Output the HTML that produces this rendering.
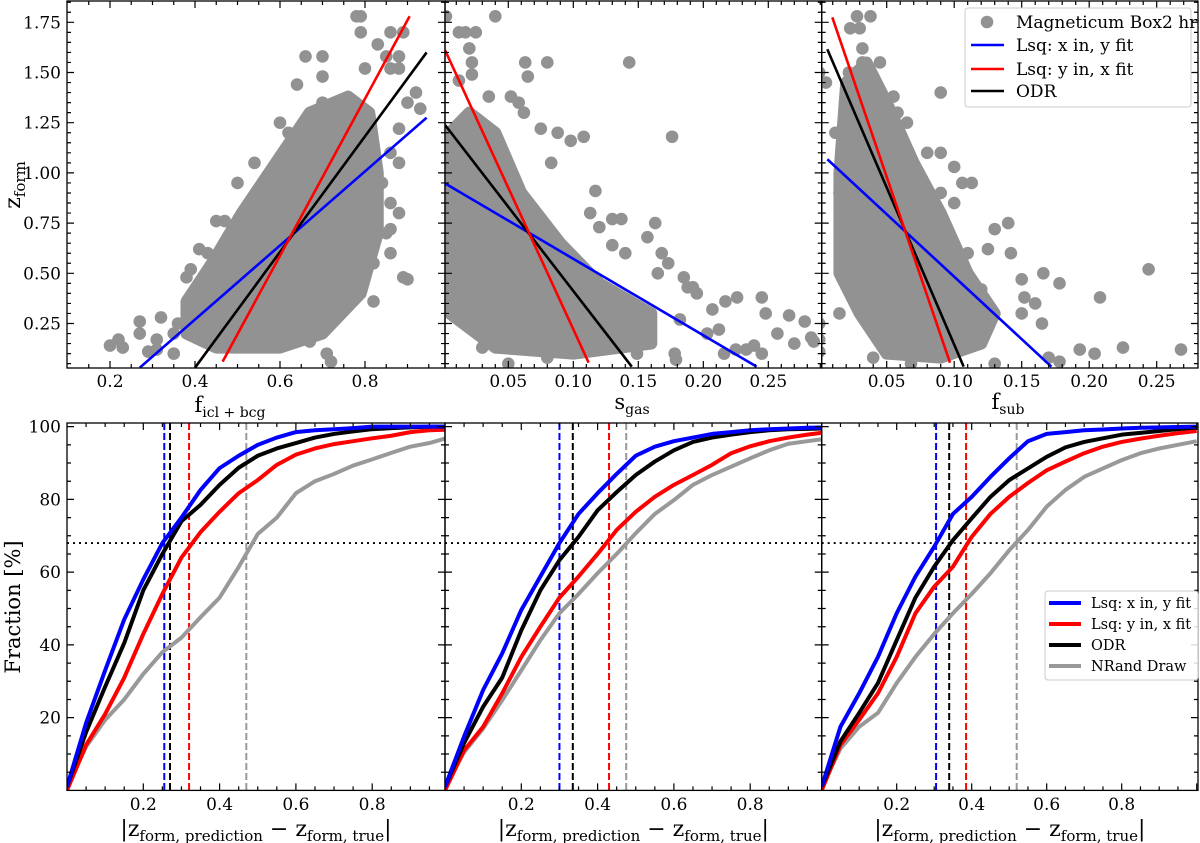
<!DOCTYPE html>
<html><head><meta charset="utf-8">
<style>
html,body{margin:0;padding:0;background:#fff;overflow:hidden;}
svg{display:block;font-family:"DejaVu Serif","Liberation Serif",serif;}
</style></head>
<body>
<svg id="fig" width="1200" height="843" viewBox="0 0 1200 843" xmlns="http://www.w3.org/2000/svg">
<defs>
<clipPath id="c1"><rect x="67" y="1" width="378" height="367"/></clipPath>
<clipPath id="c2"><rect x="445" y="1" width="376.7" height="367"/></clipPath>
<clipPath id="c3"><rect x="821.7" y="1" width="376.3" height="367"/></clipPath>
<clipPath id="d1"><rect x="67" y="423" width="378" height="367.4"/></clipPath>
<clipPath id="d2"><rect x="445" y="423" width="376.7" height="367.4"/></clipPath>
<clipPath id="d3"><rect x="821.7" y="423" width="376.3" height="367.4"/></clipPath>
</defs>
</svg>
<script>
// ---------- DATA ----------
const p1Points=[[0.2,0.14],[0.22,0.17],[0.23,0.13],[0.27,0.26],[0.27,0.2],[0.29,0.11],[0.31,0.12],[0.32,0.28],[0.31,0.17],[0.35,0.1],[0.36,0.25],[0.38,0.48],[0.39,0.52],[0.41,0.62],[0.43,0.6],[0.45,0.76],[0.47,0.76],[0.5,0.95],[0.54,1.05],[0.56,0.95],[0.6,1.25],[0.62,1.2],[0.64,1.44],[0.66,1.58],[0.7,1.58],[0.7,1.48],[0.71,0.1],[0.72,0.06],[0.69,0.25],[0.74,0.3],[0.78,1.78],[0.79,1.78],[0.79,1.7],[0.83,1.64],[0.86,1.7],[0.89,1.7],[0.85,1.58],[0.88,1.58],[0.8,1.52],[0.86,1.52],[0.88,1.52],[0.92,1.4],[0.93,1.32],[0.9,1.35],[0.88,1.22],[0.86,1.1],[0.88,1.05],[0.86,0.85],[0.88,0.8],[0.86,0.72],[0.89,0.48],[0.9,0.47],[0.82,0.36],[0.86,0.6],[0.85,0.7],[0.76,0.45],[0.67,0.16],[0.62,0.16],[0.55,0.15],[0.5,0.22],[0.44,0.3],[0.58,0.35],[0.77,1.2],[0.8,1.0],[0.7,1.35],[0.75,1.3],[0.53,0.62],[0.48,0.5],[0.4,0.34],[0.35,0.2],[0.82,0.55],[0.84,0.95]];
const p1Core=[[0.38,0.2],[0.45,0.13],[0.6,0.13],[0.7,0.2],[0.79,0.4],[0.83,0.7],[0.83,1.0],[0.81,1.3],[0.76,1.38],[0.67,1.3],[0.59,1.05],[0.51,0.8],[0.44,0.55],[0.38,0.36]];
const p2Points=[[0.002,1.78],[0.04,1.78],[0.012,1.7],[0.017,1.7],[0.025,1.7],[0.02,1.62],[0.022,1.55],[0.022,1.49],[0.012,1.46],[0.063,1.55],[0.08,1.55],[0.065,1.48],[0.143,1.55],[0.035,1.38],[0.052,1.38],[0.058,1.35],[0.075,1.22],[0.088,1.2],[0.098,1.16],[0.108,1.18],[0.176,1.18],[0.083,1.05],[0.117,0.91],[0.113,0.8],[0.13,0.77],[0.137,0.77],[0.163,0.75],[0.12,0.73],[0.157,0.68],[0.13,0.64],[0.14,0.6],[0.173,0.55],[0.168,0.6],[0.165,0.5],[0.185,0.48],[0.188,0.43],[0.195,0.4],[0.192,0.43],[0.207,0.32],[0.217,0.36],[0.226,0.38],[0.245,0.38],[0.182,0.27],[0.203,0.2],[0.212,0.22],[0.248,0.3],[0.266,0.29],[0.257,0.2],[0.27,0.15],[0.283,0.18],[0.278,0.26],[0.285,0.16],[0.239,0.14],[0.233,0.12],[0.245,0.1],[0.225,0.12],[0.216,0.1],[0.149,0.1],[0.178,0.1],[0.179,0.07],[0.05,0.05],[0.08,0.08],[0.03,0.13],[0.02,0.3],[0.003,0.58],[0.01,0.43],[0.062,1.3]];
const p2Core=[[0.005,0.3],[0.04,0.13],[0.1,0.1],[0.16,0.15],[0.16,0.3],[0.12,0.45],[0.09,0.65],[0.06,0.9],[0.04,1.2],[0.02,1.3],[0.005,1.2]];
const p3Points=[[0.028,1.78],[0.038,1.78],[0.023,1.72],[0.03,1.72],[0.032,1.62],[0.032,1.55],[0.045,1.55],[0.0,1.5],[0.005,1.45],[0.022,1.5],[0.09,1.4],[0.055,1.38],[0.058,1.3],[0.065,1.25],[0.09,1.1],[0.1,1.03],[0.106,0.95],[0.113,0.95],[0.14,0.75],[0.13,0.72],[0.142,0.6],[0.125,0.62],[0.15,0.47],[0.152,0.38],[0.166,0.5],[0.178,0.45],[0.16,0.35],[0.244,0.52],[0.208,0.38],[0.15,0.3],[0.165,0.25],[0.193,0.12],[0.204,0.1],[0.225,0.13],[0.268,0.12],[0.178,0.06],[0.17,0.08],[0.13,0.05],[0.068,0.05],[0.04,0.08],[0.0,0.17],[0.0,0.11],[0.015,0.3],[0.0,0.25],[0.11,0.6],[0.12,0.42],[0.1,0.85],[0.08,1.1],[0.09,0.9],[0.015,0.9],[0.012,1.2]];
const p3Core=[[0.015,0.5],[0.03,0.3],[0.05,0.1],[0.09,0.08],[0.12,0.15],[0.13,0.3],[0.11,0.5],[0.09,0.8],[0.07,1.05],[0.05,1.35],[0.035,1.55],[0.02,1.45],[0.015,1.0]];
// fit lines [x0,z0,x1,z1]
const p1Fits={blue:[0.27,0.03,0.945,1.275],red:[0.465,0.06,0.905,1.78],black:[0.40,0.03,0.945,1.60]};
const p2Fits={blue:[0.0013,0.948,0.241,0.035],red:[0.0013,1.612,0.1118,0.055],black:[0.0013,1.239,0.145,0.035]};
const p3Fits={blue:[0.006,1.068,0.172,0.035],red:[0.0097,1.775,0.0969,0.055],black:[0.006,1.616,0.107,0.035]};
// CDF curves
const cdfX=[0,0.05,0.1,0.15,0.2,0.25,0.3,0.35,0.4,0.45,0.5,0.55,0.6,0.65,0.7,0.75,0.8,0.85,0.9,0.95,1.0];
const c1Blue=[1,18.5,33,47,58,68,75,82.6,88.6,92,95,97,98.5,99,99.3,99.6,100,100,100,100,100];
const c1Black=[1,16,28.5,40.5,55,65,74,78.5,84,88.7,92,94,95.5,97,98,98.7,99.3,99.6,99.8,100,100];
const c1Red=[0,12.5,21,31,43,54,64,71,76.6,81.7,85.3,89.5,92.3,94,95.2,96,96.8,97.5,98.5,99,99.2];
const c1Gray=[1,12,19.4,25,32,38,42,47.6,53,61.4,70.5,75,81.7,85,87,89.3,91,92.8,94.5,95.5,97];
const c2Blue=[1,14.8,27.6,37.7,49.6,58.8,68,76,81.7,87,92,94.5,96,97,98,98.5,99,99.3,99.5,99.7,99.8];
const c2Black=[1,13,23,31,44,55,63.3,69.7,77,82,86.7,90.4,93.5,95.8,97,97.8,98.5,99,99.3,99.4,99.5];
const c2Red=[0,11,17.5,26.7,36.7,45,53,58.8,65,71.6,76.6,80.7,84,86.7,89.5,92.7,94.6,96,97,97.8,98.5];
const c2Gray=[1,10.5,17,24.8,33,41.3,48.7,54,59.7,65,70.7,76,79.8,84,86.7,89,91.3,93.5,95.3,96,96.7];
const c3Blue=[1,17.5,26.7,36.7,48.7,58.8,67,76,80.7,86.2,91.3,96,98,98.5,99,99.2,99.5,99.7,99.8,99.9,100];
const c3Black=[1,13.5,21.3,29.5,41.3,53,61.5,68.8,74.8,80.7,85.3,88.5,91.7,94.3,95.8,96.8,97.8,98.3,98.8,99.3,99.8];
const c3Red=[0,12.5,19.4,26.7,36.7,48.7,56,61.5,69.7,76,80.7,84.5,88,90.4,92.7,94.5,95.8,96.7,97.5,98.2,98.8];
const c3Gray=[1,11.5,17.5,21.3,29.5,36.7,43,48.7,54,59.7,66,71.6,78,82.6,86.2,88.5,90.8,92.7,94,95,96];
const c1Med=[0.255,0.27,0.32,0.47];
const c2Med=[0.30,0.335,0.43,0.475];
const c3Med=[0.305,0.34,0.385,0.52];
const levelPct=68;
const topYTicks=[0.25,0.5,0.75,1.0,1.25,1.5,1.75];
const topYLabels=["0.25","0.50","0.75","1.00","1.25","1.50","1.75"];
const p1XTicks=[0.2,0.4,0.6,0.8];
const p23XTicks=[0.05,0.1,0.15,0.2,0.25];
const p23XLabels=["0.05","0.10","0.15","0.20","0.25"];
const botXTicks=[0.2,0.4,0.6,0.8];
const botYTicks=[20,40,60,80,100];

// ---------- HELPERS ----------
const NS="http://www.w3.org/2000/svg";
const svg=document.getElementById('fig');
function mk(tag,attrs,parent){const e=document.createElementNS(NS,tag);for(const k in attrs)e.setAttribute(k,attrs[k]);(parent||svg).appendChild(e);return e;}
const COL={blue:'#0000ff',red:'#ff0000',black:'#000000',gray:'#999999'};

// axis functions
const topY=z=>22.3+(1.75-z)*200.8;
const topX=[v=>110+(v-0.2)*425, v=>508.3+(v-0.05)*1300, v=>886.7+(v-0.05)*1350];
const botY=v=>790.4-v*3.6375;
const botX=[v=>67+v*381.5, v=>445+v*381.5, v=>821.7+v*375];
const topBox=[[67,445],[445,821.7],[821.7,1198]];

function ticks(g,x0,x1,y0,y1,xs,ys,name){
  let d='';
  xs.forEach(([p,maj])=>{const L=maj?7:4;d+=`M${p},${y1}v${-L}M${p},${y0}v${L}`;});
  ys.forEach(([p,maj])=>{const L=maj?7:4;d+=`M${x0},${p}h${L}M${x1},${p}h${-L}`;});
  const t=mk('path',{d:d,stroke:'#000','stroke-width':1.2,fill:'none'},g);
  
  
}
function txt(g,x,y,s,opts){const t=mk('text',Object.assign({x:x,y:y,'font-size':17,fill:'#000','text-anchor':'middle'},opts||{}),g);t.textContent=s;return t;}

// ---------- TOP PANELS ----------
const pts=[p1Points,p2Points,p3Points], cores=[p1Core,p2Core,p3Core], fits=[p1Fits,p2Fits,p3Fits];
for(let i=0;i<3;i++){
  const g=mk('g',{});
  
  
  const X=topX[i];
  const [bx0,bx1]=topBox[i];
  const inner=mk('g',{'clip-path':`url(#c${i+1})`},g);
  const core=mk('polygon',{points:cores[i].map(p=>X(p[0])+','+topY(p[1])).join(' '),fill:'#929292',stroke:'#929292','stroke-width':12,'stroke-linejoin':'round'},inner);
  
  
  pts[i].forEach(p=>{
    const c=mk('circle',{cx:X(p[0]),cy:topY(p[1]),r:6.3,fill:'#929292'},inner);
    
    
  });
  ['blue','black','red'].forEach(k=>{
    const f=fits[i][k];
    const l=mk('line',{x1:X(f[0]),y1:topY(f[1]),x2:X(f[2]),y2:topY(f[3]),stroke:COL[k],'stroke-width':2.6},inner);
    
    
  });
  const fr=mk('rect',{x:bx0,y:1,width:bx1-bx0,height:367,fill:'none',stroke:'#000','stroke-width':1.3},g);
  
  
  const xs=[];
  if(i===0){for(let r=10;r<=99;r+=5){xs.push([X(r/100),r%20===0]);}}
  else{for(let v=1;v<=29;v++){xs.push([X(v/100),v%5===0]);}}
  const ys=[];
  for(let v=5;v<=185;v+=5){ys.push([topY(v/100),v%25===0]);}
  ticks(g,bx0,bx1,1,368,xs.filter(a=>a[0]>bx0+1&&a[0]<bx1-1),ys.filter(a=>a[0]>2&&a[0]<367),'axis-ticks');
  if(i===0){
    p1XTicks.forEach(v=>{const t=txt(g,X(v),387,v.toFixed(1));});
    topYTicks.forEach((v,j)=>{const t=txt(g,61,topY(v)+6,topYLabels[j],{'text-anchor':'end'});});
  } else {
    p23XTicks.forEach((v,j)=>{const t=txt(g,X(v),387,p23XLabels[j]);});
  }
}
let at=mk('text',{x:230,y:412,'font-size':21,'text-anchor':'middle'});
at.innerHTML='f<tspan font-size="14" dy="5">icl + bcg</tspan>';


at=mk('text',{x:632,y:409,'font-size':21,'text-anchor':'middle'});
at.innerHTML='s<tspan font-size="14" dy="5">gas</tspan>';


at=mk('text',{x:1008,y:409,'font-size':21,'text-anchor':'middle'});
at.innerHTML='f<tspan font-size="14" dy="5">sub</tspan>';


at=mk('text',{x:0,y:0,'font-size':22,'text-anchor':'middle',transform:'translate(20,185) rotate(-90)'});
at.innerHTML='z<tspan font-size="15" dy="5">form</tspan>';



// top legend
const lg=mk('g',{});


mk('rect',{x:965,y:8,width:226,height:99,rx:3,fill:'#fff','fill-opacity':0.85,stroke:'#ccc','stroke-width':1},lg);
const mc=mk('circle',{cx:987,cy:22,r:6.3,fill:'#929292'},lg);


[['Magneticum Box2 hr',null,22],['Lsq: x in, y fit','blue',45],['Lsq: y in, x fit','red',69],['ODR','black',91]].forEach(([s,c,y])=>{
  if(c){const l=mk('line',{x1:971,y1:y,x2:1004,y2:y,stroke:COL[c],'stroke-width':2.6},lg);
    
    }
  const t=txt(lg,1016,y+6,s,{'text-anchor':'start','font-size':17});
  
  
});

// ---------- BOTTOM PANELS ----------
const cdfs=[[c1Blue,c1Black,c1Red,c1Gray],[c2Blue,c2Black,c2Red,c2Gray],[c3Blue,c3Black,c3Red,c3Gray]];
const meds=[c1Med,c2Med,c3Med];
const order=['blue','black','red','gray'];
for(let i=0;i<3;i++){
  const g=mk('g',{});
  
  
  const X=botX[i];
  const [bx0,bx1]=topBox[i];
  const inner=mk('g',{'clip-path':`url(#d${i+1})`},g);
  const hl=mk('line',{x1:bx0,x2:bx1,y1:botY(levelPct),y2:botY(levelPct),stroke:'#000','stroke-width':1.8,'stroke-dasharray':'2,4'},inner);
  
  
  meds[i].forEach((m,j)=>{
    const v=mk('line',{x1:X(m),x2:X(m),y1:423,y2:790.4,stroke:COL[order[j]],'stroke-width':2,'stroke-dasharray':'7,3'},inner);
    
    
  });
  [3,2,1,0].forEach(j=>{
    const arr=cdfs[i][j];
    const p=mk('polyline',{points:cdfX.map((x,k)=>X(x)+','+botY(arr[k])).join(' '),fill:'none',stroke:COL[order[j]],'stroke-width':4,'stroke-linejoin':'round'},inner);
    
    
  });
  const fr=mk('rect',{x:bx0,y:423,width:bx1-bx0,height:367.4,fill:'none',stroke:'#000','stroke-width':1.3},g);
  
  
  const xs=[];for(let v=5;v<=100;v+=5){xs.push([X(v/100),v%20===0]);}
  const ys=[];for(let v=5;v<=100;v+=5){ys.push([botY(v),v%20===0]);}
  ticks(g,bx0,bx1,423,790.4,xs.filter(a=>a[0]<bx1-1),ys,'axis-ticks');
  botXTicks.forEach(v=>{const t=txt(g,X(v),810,v.toFixed(1));});
  if(i===0){botYTicks.forEach(v=>{const t=txt(g,61,botY(v)+6,String(v),{'text-anchor':'end'});});}
  const xt=mk('text',{x:(bx0+bx1)/2,y:836,'font-size':22,'text-anchor':'middle'},g);
  xt.innerHTML='|z<tspan font-size="15" dy="5">form, prediction</tspan><tspan dy="-5"> − z</tspan><tspan font-size="15" dy="5">form, true</tspan><tspan dy="-5">|</tspan>';
  
  
}
at=mk('text',{x:0,y:0,'font-size':21,'text-anchor':'middle',transform:'translate(20,607) rotate(-90)'});
at.textContent='Fraction [%]';



// bottom legend
const bl=mk('g',{});


mk('rect',{x:1045,y:591,width:153,height:89,rx:3,fill:'#fff','fill-opacity':0.85,stroke:'#ccc','stroke-width':1},bl);
[['Lsq: x in, y fit','blue',603],['Lsq: y in, x fit','red',624],['ODR','black',645],['NRand Draw','gray',666]].forEach(([s,c,y])=>{
  const l=mk('line',{x1:1049,y1:y,x2:1081,y2:y,stroke:COL[c],'stroke-width':4},bl);
  
  
  const t=txt(bl,1091,y+5,s,{'text-anchor':'start','font-size':14.5});
  
  
});
</script>
</body></html>
